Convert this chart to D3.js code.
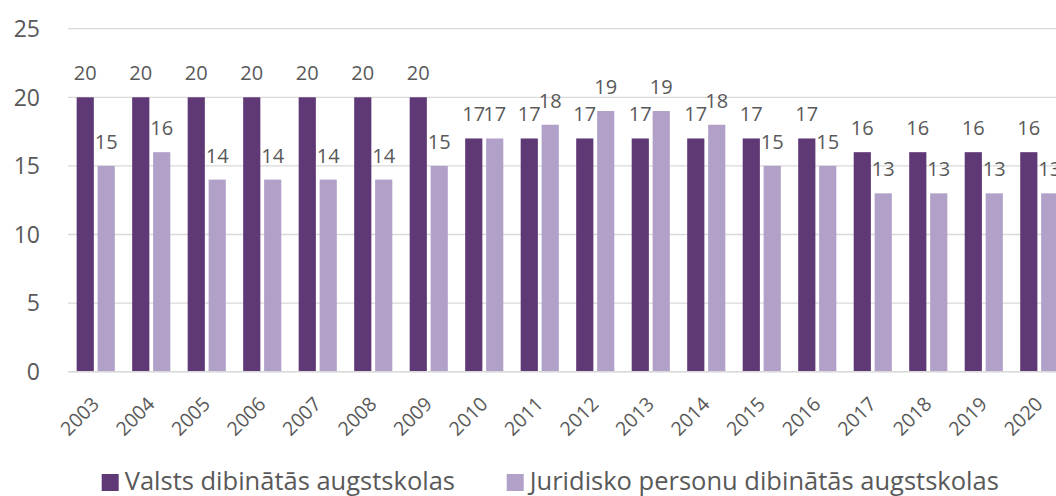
<!DOCTYPE html>
<html><head><meta charset="utf-8">
<script src="https://cdn.jsdelivr.net/npm/d3@7"></script>
<style>
html,body{margin:0;padding:0;background:#fff;overflow:hidden}
svg{display:block}
text{font-family:"Open Sans",sans-serif;fill:#595959}
</style></head>
<body>
<svg id="chart" width="1056" height="496"></svg>
<script>
const years = ["2003","2004","2005","2006","2007","2008","2009","2010","2011","2012","2013","2014","2015","2016","2017","2018","2019","2020"];
const valsts = [20,20,20,20,20,20,20,17,17,17,17,17,17,17,16,16,16,16];
const juridisko = [15,16,14,14,14,14,15,17,18,19,19,18,15,15,13,13,13,13];
const seriesNames = ["Valsts dibinātās augstskolas","Juridisko personu dibinātās augstskolas"];
const yTicks = [0,5,10,15,20,25];
const colors = ["#5F3975","#B1A1C8"];

const svg = d3.select("#chart");
const plotL = 68, plotR = 1067, plotT = 28.7, plotB = 371.7;

const x = d3.scaleBand().domain(years).range([plotL, plotR]).paddingInner(0.313).paddingOuter(0.156);
const xs = d3.scaleBand().domain([0,1]).range([0, x.bandwidth()]).paddingInner(0.18);
const y = d3.scaleLinear().domain([0,25]).range([plotB, plotT]);

// gridlines
svg.append("g").selectAll("line").data(yTicks).join("line")
  .attr("x1", plotL).attr("x2", plotR)
  .attr("y1", d => y(d)).attr("y2", d => y(d))
  .attr("stroke", "#d9d9d9").attr("stroke-width", 1.3);

// y labels
svg.append("g").selectAll("text").data(yTicks).join("text")
  .attr("x", 40).attr("y", d => y(d)).attr("dy", "0.36em")
  .attr("text-anchor", "end").style("font-size", "23px")
  .text(d => d);

const data = years.map((yr, i) => ({yr, vals: [valsts[i], juridisko[i]]}));

const groups = svg.append("g").selectAll("g").data(data).join("g")
  .attr("transform", d => `translate(${x(d.yr)},0)`);

groups.selectAll("rect").data(d => d.vals.map((v, k) => ({v, k}))).join("rect")
  .attr("x", d => xs(d.k)).attr("width", xs.bandwidth())
  .attr("y", d => y(d.v)).attr("height", d => y(0) - y(d.v))
  .attr("fill", d => colors[d.k]);

groups.selectAll("text.lbl").data(d => d.vals.map((v, k) => ({v, k}))).join("text")
  .attr("class", "lbl")
  .attr("x", d => xs(d.k) + xs.bandwidth() / 2)
  .attr("y", d => y(d.v) - 17)
  .attr("text-anchor", "middle").style("font-size", "20px")
  .text(d => d.v);

// baseline
svg.append("line").attr("x1", plotL).attr("x2", plotR)
  .attr("y1", y(0)).attr("y2", y(0)).attr("stroke", "#d9d9d9").attr("stroke-width", 1.5);

// x labels
svg.append("g").selectAll("text").data(years).join("text")
  .attr("transform", d => `translate(${x(d) + x.bandwidth()/2 - 5},${plotB + 24}) rotate(-45)`)
  .attr("text-anchor", "end").attr("dy", "0.7em")
  .style("font-size", "19.5px")
  .text(d => d);

// legend
const lg = svg.append("g");
const legendX = [101.7, 506.7];
seriesNames.forEach((name, k) => {
  lg.append("rect").attr("x", legendX[k]).attr("y", 474).attr("width", 17).attr("height", 17).attr("fill", colors[k]);
  lg.append("text").attr("x", legendX[k] + 23).attr("y", 489.5).style("font-size", "25.5px").text(name);
});
</script>
</body></html>
